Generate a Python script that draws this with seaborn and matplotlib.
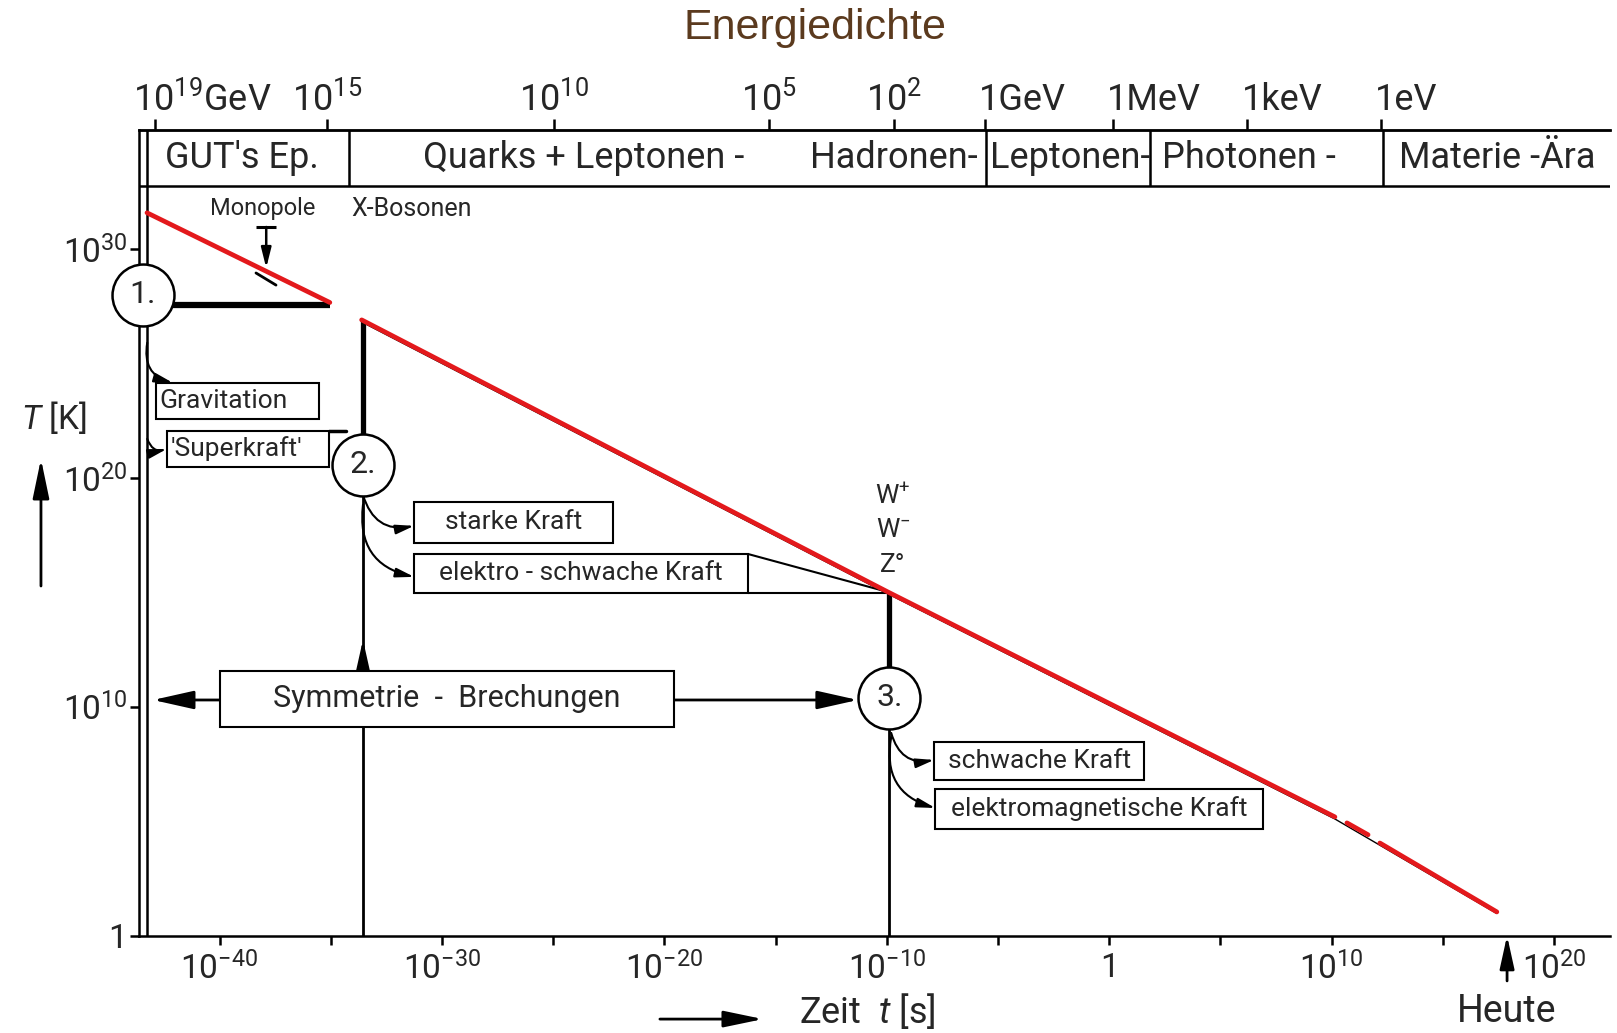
import matplotlib
matplotlib.use("Agg")
import matplotlib.pyplot as plt
from matplotlib.patches import FancyArrowPatch, Rectangle
import pandas as pd
import seaborn as sns

# all positions in decades: x = log10(t / s), y = log10(T / K)

# red T(t) curve, in pieces (the gaps are in the original)
red_piece = [1, 1, 2, 2, 2, 3, 3, 4, 4]
red_logt = [-43.26, -35.04, -33.61, -9.95, 10.15, 10.69, 11.64, 12.17, 17.43]
red_logT = [31.59, 27.67, 26.91, 15.02, 5.19, 4.93, 4.41, 4.05, 1.04]

# black curve of the scanned figure, partly visible under the red one
black_logt = [-33.61, -9.95, 10.15, 17.43]
black_logT = [26.82, 14.94, 5.10, 0.97]

# symmetry breakings (circles 1-3)
trans_labels = ["1.", "2.", "3."]
trans_logt = [-43.46, -33.55, -9.88]
trans_logT = [28.0, 20.57, 10.39]
trans_top_logT = [28.0, 26.91, 15.02]

xtick_major = [-40, -30, -20, -10, 0, 10, 20]
xtick_labels = ["$10^{-40}$", "$10^{-30}$", "$10^{-20}$", "$10^{-10}$", "1",
                "$10^{10}$", "$10^{20}$"]
xtick_minor = [-35, -25, -15, -5, 5, 15]
ytick_pos = [0, 10, 20, 30]
ytick_labels = ["1", "$10^{10}$", "$10^{20}$", "$10^{30}$"]

# energy scale on top
energy_logt = [-42.9, -35.15, -24.98, -15.3, -9.69, -5.6, 0.17, 6.2, 12.2]
energy_labels = ["$10^{19}$GeV", "$10^{15}$", "$10^{10}$", "$10^{5}$", "$10^{2}$",
                 "1GeV", "1MeV", "1keV", "1eV"]

# epochs band
band_edges = [-34.17, -5.52, 1.83, 12.31]
band_labels = ["GUT's Ep.", "Quarks + Leptonen -", "Hadronen-", "Leptonen-",
               "Photonen -", "Materie -Ära"]
band_label_logt = [-42.46, -30.85, -13.46, -5.36, 2.37, 13.02]

# boxes: left, right, bottom, top
box_labels = ["Gravitation", "'Superkraft'", "starke Kraft", "elektro - schwache Kraft",
              "Symmetrie  -  Brechungen", "schwache Kraft", "elektromagnetische Kraft"]
box_left = [-42.86, -42.36, -31.25, -31.25, -39.98, -7.87, -7.82]
box_right = [-35.53, -35.08, -22.30, -16.24, -19.57, 1.57, 6.92]
box_bottom = [22.58, 20.49, 17.16, 14.98, 9.13, 6.81, 4.66]
box_top = [24.16, 22.06, 18.97, 16.68, 11.58, 8.47, 6.41]
box_align = ["left", "left", "center", "center", "center", "center", "center"]
box_size = [19, 19, 19, 19, 22, 19, 19]

# curved arrows from the circles to the boxes: start / end
curve_start = [(-43.25, 25.91), (-43.25, 21.71), (-33.55, 19.26), (-33.55, 18.83),
               (-9.80, 8.86), (-9.80, 8.68)]
curve_end = [(-42.10, 24.16), (-42.37, 21.27), (-31.25, 17.91), (-31.25, 15.68),
             (-7.87, 7.68), (-7.82, 5.58)]

XLIM = (-43.61, 22.52)
YLIM = (0, 35.21)
BAND_BOTTOM = 32.77
INNER_LINE = -43.25
LW = 1.8

sns.set_theme(style="white")
plt.rcParams["font.family"] = ["Roboto", "DejaVu Sans"]
plt.rcParams["mathtext.fontset"] = "custom"
plt.rcParams["mathtext.rm"] = "Roboto"
plt.rcParams["mathtext.it"] = "Roboto:italic"
plt.rcParams["mathtext.bf"] = "Roboto:bold"

fig = plt.figure(figsize=(16.17, 10.33), dpi=100)
ax = fig.add_axes([0.0861, 0.0942, 0.9096, 0.78])

# curves
red_df = pd.DataFrame({"t": red_logt, "T": red_logT, "piece": red_piece})
sns.lineplot(x=black_logt, y=black_logT, color="black", lw=1.0, sort=False,
             ax=ax, zorder=5)
sns.lineplot(data=red_df, x="t", y="T", units="piece", estimator=None, sort=False,
             color="#e3191c", lw=3.4, ax=ax, zorder=6, legend=False)

# vertical lines of the transitions
ax.axvline(INNER_LINE, color="black", lw=LW, zorder=2)
ax.vlines(trans_logt[1:], 0, trans_logT[1:], color="black", lw=2.0, zorder=2)
ax.vlines(trans_logt[1:], trans_logT[1:], trans_top_logT[1:], color="black", lw=3.8, zorder=2)
ax.hlines(27.55, trans_logt[0], red_logt[1], color="black", lw=4.5, zorder=2)

# epochs band
ax.axhline(BAND_BOTTOM, color="black", lw=LW, zorder=2)
ax.vlines(band_edges, BAND_BOTTOM, YLIM[1], color="black", lw=LW, zorder=2)
for lab, x in zip(band_labels, band_label_logt):
    ax.text(x, (BAND_BOTTOM + YLIM[1]) / 2, lab, ha="left", va="center", fontsize=26)

# boxes
for lab, l, r, b, t, al, fs in zip(box_labels, box_left, box_right, box_bottom,
                                    box_top, box_align, box_size):
    ax.add_patch(Rectangle((l, b), r - l, t - b, facecolor="white", edgecolor="black",
                           lw=1.5, zorder=4))
    x = l + 0.15 if al == "left" else (l + r) / 2
    ax.text(x, (b + t) / 2, lab, ha=al, va="center", fontsize=fs, zorder=5)

# box connectors
ax.plot([box_right[1], -34.3], [box_top[1], box_top[1]], color="black", lw=2.5, zorder=3)
ax.plot([box_right[3], red_logt[3]], [box_top[3], red_logT[3]], color="black", lw=1.5, zorder=3)
ax.plot([box_right[3], red_logt[3]], [box_bottom[3], box_bottom[3]], color="black", lw=1.5, zorder=3)

# circles
sns.scatterplot(x=trans_logt, y=trans_logT, s=1990, marker="o", color="white",
                edgecolor="black", linewidth=1.8, ax=ax, zorder=7, legend=False)
ax.collections[-1].set_clip_on(False)
for lab, x, y in zip(trans_labels, trans_logt, trans_logT):
    ax.text(x, y, lab, ha="center", va="center", fontsize=23, zorder=8)

# curved arrows
for p0, p1 in zip(curve_start, curve_end):
    ax.add_patch(FancyArrowPatch(p0, p1, connectionstyle="arc3,rad=0.45",
                                 arrowstyle="-|>,head_length=0.55,head_width=0.14",
                                 mutation_scale=20, lw=1.5, color="black",
                                 shrinkA=0, shrinkB=0, zorder=3))

# symmetry-breaking arrows
straight_arrows = [((box_left[4], 10.30), (-42.99, 10.30)),
                   ((box_right[4], 10.30), (-11.3, 10.30)),
                   ((trans_logt[1], box_top[4]), (trans_logt[1], 12.93))]
for p0, p1 in straight_arrows:
    ax.add_patch(FancyArrowPatch(p0, p1, arrowstyle="-|>,head_length=1.25,head_width=0.28",
                                 mutation_scale=20, lw=2.0, color="black",
                                 shrinkA=0, shrinkB=0, zorder=3))

# monopole / X-bosons
ax.text(-38.04, 31.76, "Monopole", ha="center", va="center", fontsize=17)
ax.text(-34.09, 31.76, "X-Bosonen", ha="left", va="center", fontsize=18)
ax.hlines(30.97, -38.35, -37.45, color="black", lw=2.2)
ax.add_patch(FancyArrowPatch((-37.9, 30.97), (-37.9, 29.18),
                             arrowstyle="-|>,head_length=0.6,head_width=0.15",
                             mutation_scale=20, lw=1.8, color="black",
                             shrinkA=0, shrinkB=0, zorder=3))
ax.plot([-38.36, -37.46], [28.96, 28.43], color="black", lw=2.0)

# W, Z bosons
for lab, y in zip(["W$^{+}$", "W$^{-}$", "Z°"], [19.24, 17.73, 16.2]):
    ax.text(-9.72, y, lab, ha="center", va="center", fontsize=19)

# axes
ax.set_xlim(*XLIM)
ax.set_ylim(*YLIM)
ax.set_xticks(xtick_major)
ax.set_xticklabels(xtick_labels)
ax.set_xticks(xtick_minor, minor=True)
ax.set_yticks(ytick_pos)
ax.set_yticklabels(ytick_labels)
ax.tick_params(axis="x", which="both", direction="out", length=6.5, width=LW,
               color="black", labelsize=24, pad=5, bottom=True)
ax.tick_params(axis="y", direction="out", length=6.5, width=LW, color="black",
               labelsize=24, pad=2, left=True)
for side in ["left", "bottom", "top"]:
    ax.spines[side].set_color("black")
    ax.spines[side].set_linewidth(LW)
ax.spines["right"].set_visible(False)
ax.grid(False)

secax = ax.secondary_xaxis("top")
secax.set_xticks(energy_logt)
secax.set_xticklabels([""] * len(energy_logt))
secax.tick_params(direction="out", length=8, width=LW, color="black")
secax.spines["top"].set_linewidth(LW)
for lab, x in zip(energy_labels, energy_logt):
    if lab.startswith("$"):
        ha, xx = ("left", x - 1.0) if "GeV" in lab else ("center", x)
    else:
        ha, xx = "left", x - 0.25
    ax.text(xx, 1.0248, lab, transform=ax.get_xaxis_transform(), ha=ha,
            va="baseline", fontsize=26)

ax.set_xlabel("Zeit  $t$ [s]", fontsize=26, ha="left", va="center")
ax.xaxis.set_label_coords(0.4486, -0.0935)
ax.set_ylabel("$T$ [K]", fontsize=24, rotation=0, va="center", ha="center")
ax.yaxis.set_label_coords(-0.058, 0.6426)

ax.annotate("", xy=(-0.0668, 0.5917), xytext=(-0.0668, 0.434), xycoords="axes fraction",
            arrowprops=dict(arrowstyle="-|>,head_length=1.2,head_width=0.25",
                            mutation_scale=20, lw=2.0, color="black", shrinkA=0, shrinkB=0))
ax.annotate("", xy=(0.4241, -0.1035), xytext=(0.354, -0.1035), xycoords="axes fraction",
            arrowprops=dict(arrowstyle="-|>,head_length=1.2,head_width=0.25",
                            mutation_scale=20, lw=2.0, color="black", shrinkA=0, shrinkB=0))
ax.annotate("Heute", xy=(17.89, 0.0), xycoords=("data", "axes fraction"),
            xytext=(17.89, -0.0935), textcoords=("data", "axes fraction"),
            ha="center", va="center", fontsize=27, annotation_clip=False,
            arrowprops=dict(arrowstyle="-|>,head_length=1.0,head_width=0.22",
                            mutation_scale=20, lw=2.0, color="black", shrinkA=6, shrinkB=0))

fig.text(0.504, 1 - 28 / 1033, "Energiedichte", ha="center", va="center", fontsize=31,
         color="#5b3a1e", family="Liberation Sans")

fig.savefig("out.png", dpi=100)
